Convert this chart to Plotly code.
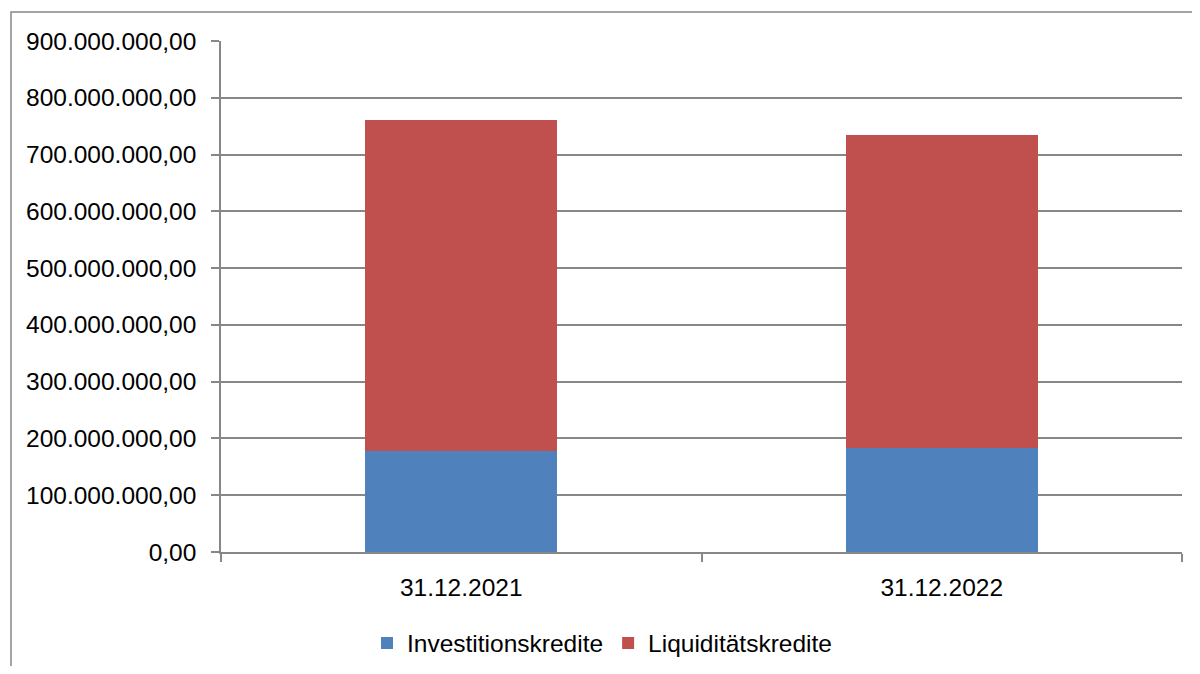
import plotly.graph_objects as go

# ── Data ──────────────────────────────────────────────────────────────────────
dates = ["31.12.2021", "31.12.2022"]
investitionskredite = [178_400_000, 182_600_000]
liquiditaetskredite = [583_300_000, 551_300_000]

# ── Style ─────────────────────────────────────────────────────────────────────
BLUE = "#4F81BD"
RED = "#C0504D"
GREY = "#878787"
FONT = dict(family="Liberation Sans, Arial, sans-serif", size=24.5, color="#000000")

# page body has an 8px margin, so the figure is sized/offset to compensate
W, H = 1184, 658
L, R, T, B = 213, 10, 33, 114
plot_w = W - L - R
plot_h = H - T - B

fig = go.Figure()
fig.add_trace(go.Bar(x=dates, y=investitionskredite, name="Investitionskredite",
                     marker=dict(color=BLUE, line=dict(width=0)), width=0.4))
fig.add_trace(go.Bar(x=dates, y=liquiditaetskredite, name="Liquiditätskredite",
                     marker=dict(color=RED, line=dict(width=0)), width=0.4))

# outer chart frame (left + top edge visible in the crop)
fig.add_shape(type="rect", xref="paper", yref="paper",
              x0=(3 - L) / plot_w, x1=1.2, y0=-0.4, y1=1 + (T - 4) / plot_h,
              line=dict(color=GREY, width=1.5), fillcolor="rgba(0,0,0,0)", layer="below")

fig.update_layout(
    barmode="stack",
    separators=",.",
    font=FONT,
    plot_bgcolor="white",
    paper_bgcolor="white",
    width=W, height=H,
    margin=dict(l=L, r=R, t=T, b=B, autoexpand=False),
    xaxis=dict(
        showline=True, linecolor=GREY, linewidth=1.5,
        ticks="outside", tickson="boundaries", ticklen=8, tickcolor=GREY, tickwidth=1.5,
        showgrid=False, tickfont=FONT, ticklabelstandoff=13,
    ),
    yaxis=dict(
        range=[0, 900_000_000], dtick=100_000_000, tickformat=",.2f",
        showline=True, linecolor=GREY, linewidth=1.5,
        ticks="outside", ticklen=8, tickcolor=GREY, tickwidth=1.5,
        showgrid=True, gridcolor=GREY, gridwidth=1.5, zeroline=False,
        tickfont=FONT, ticklabelstandoff=10,
    ),
    legend=dict(
        orientation="h", x=(602 - 8 - L) / plot_w, xanchor="center",
        y=-(643 - 552) / plot_h, yanchor="middle",
        font=FONT, traceorder="normal", itemwidth=30,
    ),
    showlegend=True,
)

fig.write_html("out.html")
